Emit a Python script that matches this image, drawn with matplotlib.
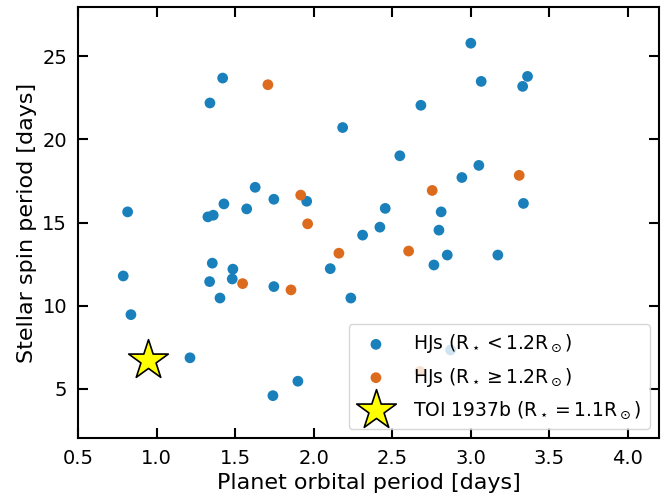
import matplotlib
matplotlib.use("Agg")
import matplotlib.pyplot as plt

# HJs around small stars (R < 1.2 Rsun)
small_porb = [0.815, 0.787, 0.836, 1.212, 1.326, 1.360, 1.428, 1.573, 1.746, 1.955,
              1.354, 1.337, 1.485, 1.481, 1.403, 1.746, 2.311, 2.105, 2.236, 1.899,
              1.740, 1.420, 1.339, 2.184, 1.627, 3.000, 3.066, 3.361, 3.330, 2.682,
              2.548, 3.051, 2.943, 2.455, 2.811, 3.335, 2.421, 2.797, 2.850, 3.172,
              2.765, 2.871]
small_prot = [15.64, 11.78, 9.45, 6.85, 15.34, 15.44, 16.12, 15.82, 16.40, 16.28,
              12.55, 11.44, 12.19, 11.60, 10.45, 11.14, 14.24, 12.22, 10.45, 5.44,
              4.57, 23.70, 22.20, 20.72, 17.12, 25.80, 23.50, 23.80, 23.20, 22.06,
              19.02, 18.44, 17.71, 15.85, 15.64, 16.15, 14.72, 14.54, 13.04, 13.04,
              12.44, 7.32]

# HJs around larger stars (R >= 1.2 Rsun)
big_porb = [1.708, 1.917, 1.961, 2.754, 3.308, 2.604, 2.160, 1.547, 1.855, 2.676]
big_prot = [23.30, 16.65, 14.92, 16.93, 17.84, 13.28, 13.15, 11.32, 10.94, 6.03]

# TOI 1937b
toi_porb = [0.946]
toi_prot = [6.70]

blue = "#1a80bb"
orange = "#dc6b1e"

fig = plt.figure(figsize=(6.68, 4.95), dpi=100)
ax = fig.add_axes([0.117, 0.1145, 0.870, 0.872])

ax.scatter(small_porb, small_prot, s=60, color=blue, edgecolors="none",
           label=r"HJs (R$_\star < 1.2$R$_\odot$)", zorder=2)
ax.scatter(big_porb, big_prot, s=60, color=orange, edgecolors="none",
           label=r"HJs (R$_\star \geq 1.2$R$_\odot$)", zorder=2)
ax.scatter(toi_porb, toi_prot, s=900, marker="*", color="yellow",
           edgecolors="black", linewidths=1.2,
           label=r"TOI 1937b (R$_\star = 1.1$R$_\odot$)", zorder=3)

ax.set_xlim(0.5, 4.2)
ax.set_ylim(2, 28)
ax.set_xticks([0.5, 1.0, 1.5, 2.0, 2.5, 3.0, 3.5, 4.0])
ax.set_yticks([5, 10, 15, 20, 25])

ax.set_xlabel("Planet orbital period [days]", fontsize=16, labelpad=3)
ax.set_ylabel("Stellar spin period [days]", fontsize=16)
ax.tick_params(direction="in", top=True, right=True, length=7, width=1.5,
               labelsize=14, pad=8)
for sp in ax.spines.values():
    sp.set_linewidth(1.5)

ax.legend(loc="lower right", fontsize=13.5, framealpha=0.8,
          handletextpad=1.0, borderpad=0.45, labelspacing=0.55,
          borderaxespad=0.5)

fig.savefig("out.png", dpi=100)
